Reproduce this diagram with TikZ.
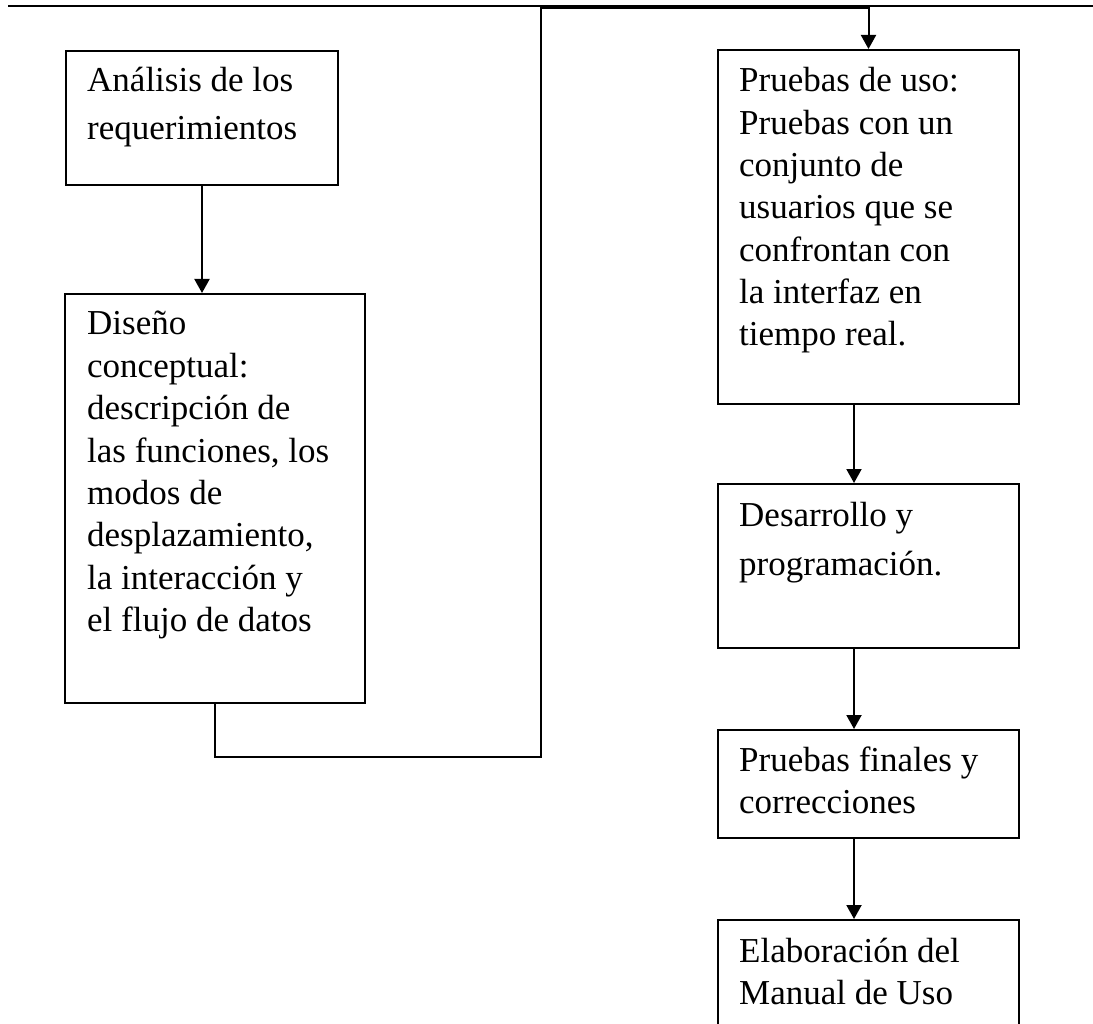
\documentclass[tikz,border=0pt]{standalone}
\usepackage{fontspec}
\setmainfont{Liberation Serif}
\usetikzlibrary{arrows.meta}

% multi-line step text; #1 = line pitch, #2 = lines separated by \\
\newcommand\flowtext[2]{{\fontsize{35pt}{#1}\selectfont\renewcommand\arraystretch{1}%
  \begin{tabular}[t]{@{}l@{}}#2\end{tabular}}}

\tikzset{
  stepbox/.style={draw=black, line width=2pt, rectangle, inner sep=0pt, anchor=north west},
  steptext/.style={anchor=base west, inner sep=0pt, text=black},
  flowline/.style={draw=black, line width=2pt},
  flowhead/.style={-{Triangle[length=14pt,width=15pt]}},
  flowarrow/.style={flowline, flowhead},
  headrule/.style={draw=black, line width=2.5pt},
}

\begin{document}
\begin{tikzpicture}[x=1pt,y=-1pt]
\useasboundingbox (0,0) rectangle (1093,1024);
\clip (0,0) rectangle (1093,1024);
\fill[white] (0,0) rectangle (1093,1024);

% page header rule
\coordinate (ruleL) at (8,6);
\coordinate (ruleR) at (1093,6);
\draw[headrule] (ruleL) -- (ruleR);

% left column
\node[stepbox, minimum width=272pt, minimum height=134pt] (analisis) at (65,50) {};
\node[steptext] (analisisT) at (87,92) {\flowtext{48pt}{Análisis de los\\requerimientos}};

\node[stepbox, minimum width=300pt, minimum height=409pt] (diseno) at (64,293) {};
\node[steptext] (disenoT) at (87,335) {\flowtext{42.4pt}{Diseño\\conceptual:\\descripción de\\las funciones, los\\modos de\\desplazamiento,\\la interacción y\\el flujo de datos}};

% right column
\node[stepbox, minimum width=301pt, minimum height=354pt] (uso) at (717,49) {};
\node[steptext] (usoT) at (739,92) {\flowtext{42.3pt}{Pruebas de uso:\\Pruebas con un\\conjunto de\\usuarios que se\\confrontan con\\la interfaz en\\tiempo real.}};

\node[stepbox, minimum width=301pt, minimum height=164pt] (desarrollo) at (717,483) {};
\node[steptext] (desarrolloT) at (739,526) {\flowtext{49pt}{Desarrollo y\\programación.}};

\node[stepbox, minimum width=301pt, minimum height=108pt] (finales) at (717,729) {};
\node[steptext] (finalesT) at (739,771) {\flowtext{42pt}{Pruebas finales y\\correcciones}};

\node[stepbox, minimum width=301pt, minimum height=150pt] (manual) at (717,919) {};
\node[steptext] (manualT) at (739,962) {\flowtext{42pt}{Elaboración del\\Manual de Uso}};

% connectors
\draw[flowarrow] (analisis.south) -- (diseno.north -| analisis.south);

\coordinate (loopLow) at (541,757);
\coordinate (loopHigh) at (541,8);
\draw[flowarrow]
  (diseno.south) -- (diseno.south |- loopLow) -- (loopLow) -- (loopHigh)
  -- (loopHigh -| uso.north) -- (uso.north);

\coordinate (spine) at (854,0);
\draw[flowarrow] (uso.south -| spine) -- (desarrollo.north -| spine);
\draw[flowarrow] (desarrollo.south -| spine) -- (finales.north -| spine);
\draw[flowarrow] (finales.south -| spine) -- (manual.north -| spine);
\end{tikzpicture}
\end{document}
